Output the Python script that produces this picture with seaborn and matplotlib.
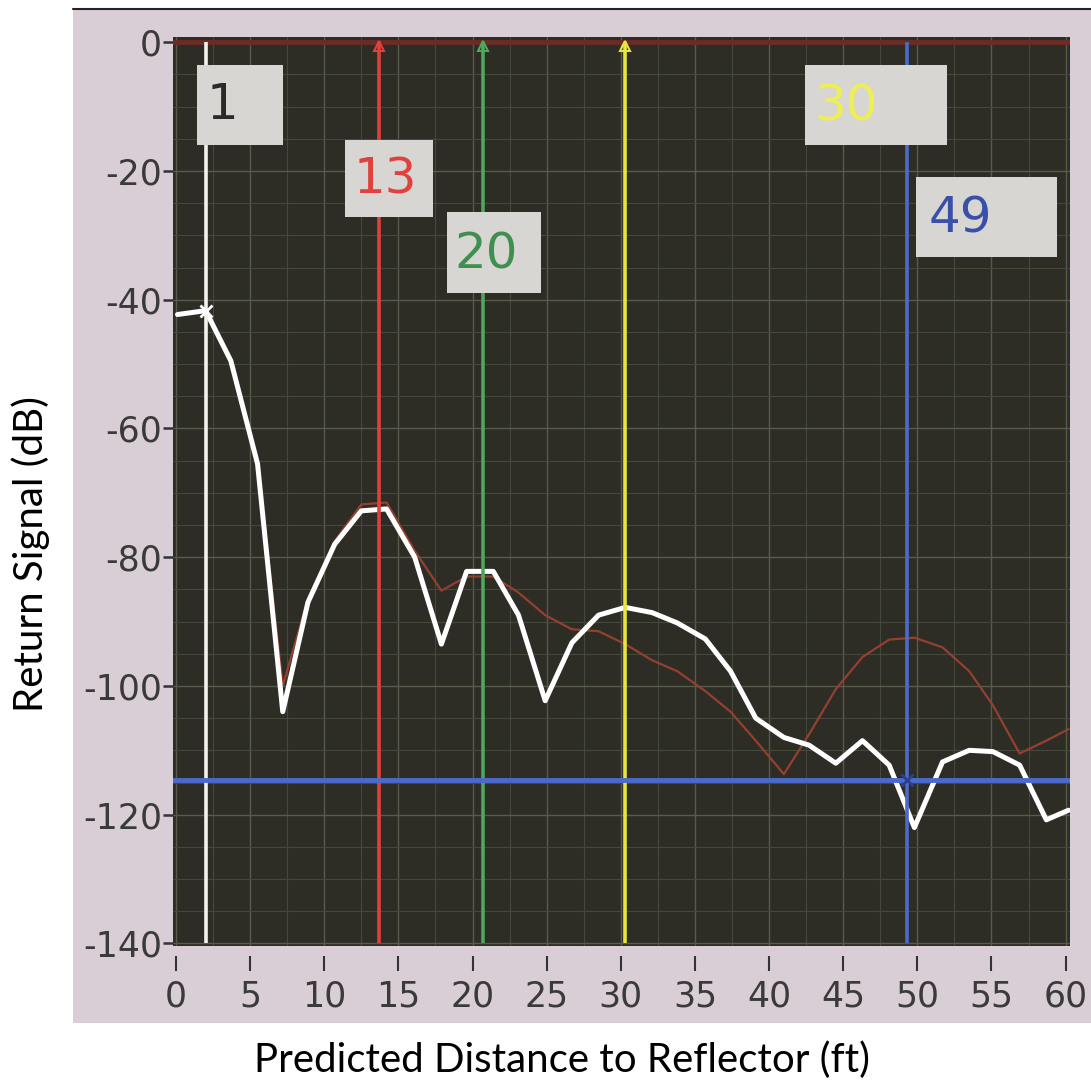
import numpy as np
import pandas as pd
import seaborn as sns
import matplotlib.pyplot as plt
from matplotlib.patches import Rectangle
from matplotlib.lines import Line2D
from matplotlib.ticker import MultipleLocator

# distance grid (ft) shared by both traces
dist_ft = [0.1, 2.0, 3.7, 5.5, 7.2, 8.9, 10.7, 12.5, 14.2, 16.1, 17.9, 19.6,
           21.4, 23.1, 24.9, 26.7, 28.5, 30.3, 32.1, 33.8, 35.7, 37.4, 39.1,
           41.0, 42.7, 44.5, 46.3, 48.1, 49.8, 51.7, 53.5, 55.1, 56.9, 58.7, 60.2]

# measured return (white trace)
signal_db = [-42.3, -41.7, -49.5, -65.5, -104.0, -87.0, -78.0, -72.8, -72.5,
             -80.0, -93.5, -82.2, -82.2, -89.0, -102.3, -93.3, -89.0, -87.8,
             -88.6, -90.2, -92.7, -97.7, -105.0, -108.0, -109.2, -112.0,
             -108.5, -112.3, -122.0, -111.8, -110.0, -110.2, -112.3, -120.8, -119.3]

# reference trace (thin dark red)
ref_db = [-42.3, -41.7, -49.5, -65.5, -100.0, -86.5, -77.5, -71.8, -71.5,
          -79.0, -85.2, -83.0, -83.0, -85.5, -89.0, -91.2, -91.5, -93.5,
          -96.0, -97.7, -100.8, -104.0, -108.5, -113.7, -107.5, -100.5,
          -95.5, -92.8, -92.5, -94.0, -97.7, -103.0, -110.5, -108.5, -106.7]

# cursors
cursor_ft = [2.0, 13.7, 20.7, 30.3, 49.3]
cursor_names = ['1', '13', '20', '30', '49']
cursor_colors = ['#f2f2ee', '#e0413c', '#4ea85c', '#e6e63e', '#4a6cc8']
text_colors = ['#2a2a2a', '#e0413c', '#3f8f4f', '#eeee55', '#3a4fa8']
level_db = -114.6

df = pd.DataFrame({'dist': dist_ft, 'signal': signal_db, 'ref': ref_db})

sns.set_style('dark', {'axes.facecolor': '#2d2c25'})
plt.rcParams['font.family'] = ['DejaVu Sans']
plt.rcParams['font.sans-serif'] = ['DejaVu Sans']
plt.rcParams['axes.unicode_minus'] = False

fig = plt.figure(figsize=(10.91, 10.87), dpi=100, facecolor='white')

# pinkish panel behind the graph
fig.patches.append(Rectangle((0.0669, 0.0589), 0.94, 0.932, transform=fig.transFigure,
                             facecolor='#d9ced6', edgecolor='none', zorder=-10))
fig.lines.append(Line2D([0.0669, 1.0], [0.9915, 0.9915], transform=fig.transFigure,
                        color='#222222', lw=1.5, zorder=-9))

ax = fig.add_axes([0.1586, 0.1297, 0.8222, 0.8362])
ax.set_facecolor('#2d2c25')

# grid
ax.xaxis.set_major_locator(MultipleLocator(5))
ax.xaxis.set_minor_locator(MultipleLocator(2.5))
ax.yaxis.set_major_locator(MultipleLocator(20))
ax.yaxis.set_minor_locator(MultipleLocator(5))
ax.grid(which='major', color='#575c4a', lw=1.0)
ax.grid(which='minor', color='#45493b', lw=0.8)
ax.tick_params(which='minor', length=0)

ax.axhline(0, color='#6b2b26', lw=3.5, zorder=2)

sns.lineplot(data=df, x='dist', y='ref', ax=ax, color='#94402f', lw=1.6,
             sort=False, zorder=3)
sns.lineplot(data=df, x='dist', y='signal', ax=ax, color='white', lw=3.6,
             sort=False, zorder=4)

# cursor lines
for xc, col in zip(cursor_ft, cursor_colors):
    ax.vlines(xc, -140, 0, color=col, lw=2.6, zorder=5)
for xc, col in zip(cursor_ft[1:4], cursor_colors[1:4]):
    ax.plot(xc, -0.6, marker='^', ms=7, mfc='none', mec=col, mew=1.5, zorder=6)
ax.axhline(level_db, color='#4a6ad0', lw=3.5, zorder=5)
ax.plot(cursor_ft[0], signal_db[1], marker='x', ms=9, mew=2, color='white', zorder=6)
ax.plot(cursor_ft[4], level_db, marker='x', ms=9, mew=2, color='#2c3f8a', zorder=6)

# cursor label boxes (x0, x1, y0, y1, text x, text y)
boxes = [(1.42, 7.2, -16.0, -3.6, 3.1, -9.8),
         (11.4, 17.3, -27.2, -15.2, 14.1, -21.4),
         (18.3, 24.6, -38.9, -26.4, 20.9, -32.9),
         (42.4, 52.0, -16.0, -3.6, 45.2, -10.0),
         (49.9, 59.4, -33.3, -21.0, 52.9, -27.4)]
for (x0, x1, y0, y1, tx, ty), name, tc in zip(boxes, cursor_names, text_colors):
    ax.add_patch(Rectangle((x0, y0), x1 - x0, y1 - y0, facecolor='#d8d6d3',
                           edgecolor='none', zorder=7))
    ax.text(tx, ty, name, color=tc, fontsize=36, family='DejaVu Sans',
            ha='center', va='center', zorder=8)

ax.set_xlim(-0.2, 60.3)
ax.set_ylim(-140.4, 0.8)
ax.set_xticks(np.arange(0, 61, 5))
ax.set_yticks(np.arange(-140, 1, 20))

for s in ax.spines.values():
    s.set_visible(False)
ax.spines['bottom'].set_position(('outward', 7))
ax.tick_params(axis='x', which='major', direction='out', length=11, width=1.5,
               color='#333333', labelcolor='#3a3a3a', labelsize=25, pad=6, bottom=True)
ax.tick_params(axis='y', which='major', direction='out', length=7, width=1.8,
               color='#333333', labelcolor='#3a3a3a', labelsize=25, pad=1, left=True)
plt.setp(ax.get_xticklabels() + ax.get_yticklabels(), family='DejaVu Sans')

ax.set_xlabel('')
ax.set_ylabel('')
fig.text(0.515, 0.025, 'Predicted Distance to Reflector (ft)', ha='center', va='center',
         fontsize=29, family=['Lato', 'DejaVu Sans'], color='black')
fig.text(0.028, 0.49, 'Return Signal (dB)', ha='center', va='center', rotation=90,
         fontsize=29, family=['Lato', 'DejaVu Sans'], color='black')

fig.savefig('out.png', dpi=100, facecolor='white')
